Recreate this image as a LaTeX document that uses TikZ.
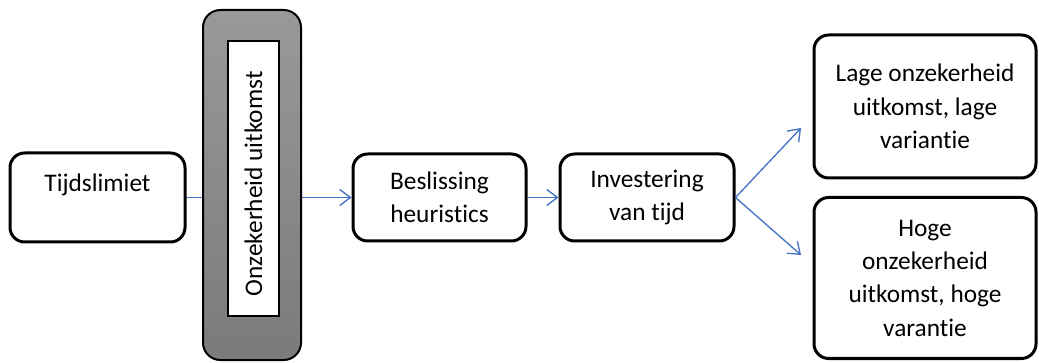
\documentclass[tikz,border=0pt]{standalone}
\usepackage{fontspec}
\setmainfont{Carlito}[Ligatures=NoCommon]
\usetikzlibrary{arrows.meta}
\definecolor{flowblue}{HTML}{4472C4}
\tikzset{
  stage/.style={draw, line width=2.25pt, rounded corners=11pt, fill=white, align=center,
    inner sep=0pt, font=\fontsize{19}{25}\selectfont},
  flow/.style={draw=flowblue, line width=1pt, -{Straight Barb[length=8pt,width=12pt,line width=1pt]}},
}

\begin{document}
\begin{tikzpicture}[x=0.75pt,y=0.75pt,yscale=-1,xscale=1]
    \useasboundingbox (0,0) rectangle (1039,363);

    % Boxes
    \node[stage, minimum width=131.25pt, minimum height=66.75pt] (limit) at (97.5,197.5) {Tijdslimiet\\[-3pt]~};
    \node[stage, minimum width=129.75pt, minimum height=65.25pt] (heur) at (439.5,197.5) {Beslissing\\heuristics};
    \node[stage, minimum width=130.5pt, minimum height=65.25pt] (invest) at (647,197.5) {Investering\\van tijd};
    \node[stage, minimum width=166.5pt, minimum height=107.25pt] (low) at (925,106.5) {Lage onzekerheid\\uitkomst, lage\\variantie};
    \node[stage, minimum width=166.5pt, minimum height=120.75pt] (high) at (925,278) {Hoge\\onzekerheid\\uitkomst, hoge\\varantie};

    % free ends of the split
    \coordinate (lowtip) at (801,128);
    \coordinate (hightip) at (801,255);

    % Arrows
    \draw[flow] (limit) -- (heur);
    \draw[flow] (heur) -- (invest);
    \draw[flow] (invest.east) -- (lowtip);
    \draw[flow] (invest.east) -- (hightip);

    % Uncertainty bar over the first arrow
    \node[draw, line width=1.5pt, rounded corners=13pt, top color=black!40, bottom color=black!52,
      minimum width=73.5pt, minimum height=262.5pt] (bar) at (252,185) {};
    \node[draw, line width=1pt, fill=white, rotate=90, inner sep=0pt,
      minimum width=206.25pt, minimum height=38.25pt, font=\fontsize{19}{22}\selectfont] (barlabel) at (253.5,178.5) {\hspace*{-8pt}Onzekerheid uitkomst};

\end{tikzpicture}
\end{document}
